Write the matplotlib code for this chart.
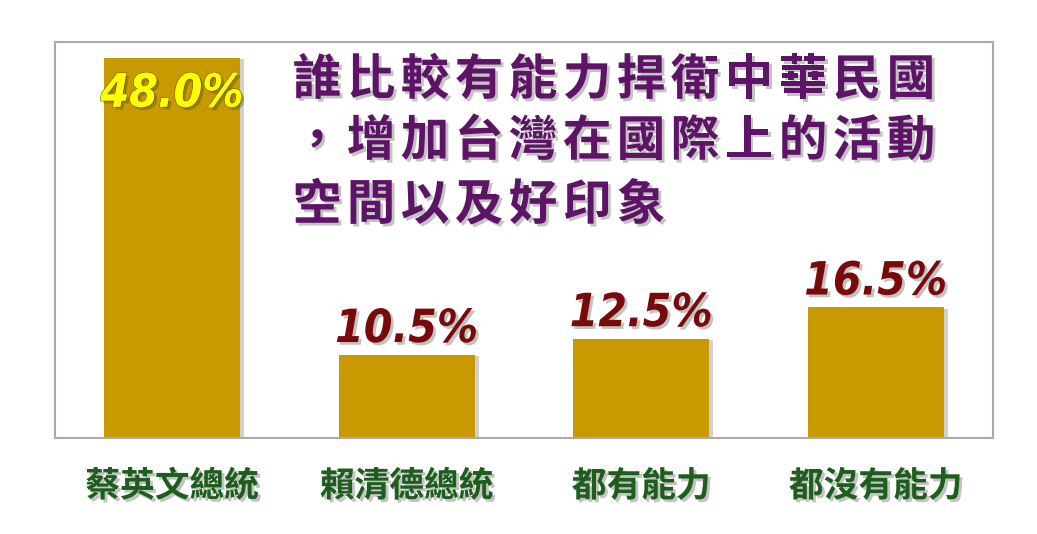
import matplotlib
matplotlib.use("Agg")
import matplotlib.pyplot as plt
import matplotlib.patheffects as pe
from matplotlib import font_manager

names = {f.name for f in font_manager.fontManager.ttflist}

categories = ["蔡英文總統", "賴清德總統", "都有能力", "都沒有能力"]
values = [48.0, 10.5, 12.5, 16.5]
labels = ["48.0%", "10.5%", "12.5%", "16.5%"]
title_lines = ["誰比較有能力捍衛中華民國", "，增加台灣在國際上的活動", "空間以及好印象"]

narrow = "Liberation Sans Narrow" if "Liberation Sans Narrow" in names else "DejaVu Sans"
cjk = ["Noto Sans CJK TC", "DejaVu Sans"]

fig = plt.figure(figsize=(10.37, 5.34), dpi=100)
ax = fig.add_axes([0.053, 0.1798, 0.9046, 0.7416])

shadow = [pe.SimplePatchShadow(offset=(3, -1), shadow_rgbFace="#666666", alpha=0.3), pe.Normal()]
txt_shadow = [pe.SimplePatchShadow(offset=(2, -2), shadow_rgbFace="#888888", alpha=0.5), pe.Normal()]

x = range(len(values))
bars = ax.bar(x, values, width=0.58, color="#C99A00", zorder=2)
for b in bars:
    b.set_path_effects(shadow)

ax.set_xlim(-0.5, 3.5)
ax.set_ylim(0, 50)
ax.set_xticks(list(x))
ax.set_xticklabels(categories, family=cjk, fontsize=25, fontweight="bold", color="#1D5E1D")
for t in ax.get_xticklabels():
    t.set_path_effects(txt_shadow)
ax.tick_params(axis="x", length=0, pad=22)
ax.set_yticks([])
for s in ax.spines.values():
    s.set_color("#AAAAAA")
    s.set_linewidth(1.5)

for i, (v, lab) in enumerate(zip(values, labels)):
    if i == 0:
        ax.annotate(lab, (i, v), xytext=(0, -10), textcoords="offset points",
                    ha="center", va="top", fontsize=33, fontweight="bold", style="italic",
                    family=narrow, fontstretch="condensed", color="#FFFF00",
                    path_effects=[pe.withStroke(linewidth=1.2, foreground="#8A7000"),
                                  pe.SimplePatchShadow(offset=(2, -2), alpha=0.4)] + [pe.Normal()])
    else:
        ax.annotate(lab, (i, v), xytext=(0, 2), textcoords="offset points",
                    ha="center", va="bottom", fontsize=33, fontweight="bold", style="italic",
                    family=narrow, fontstretch="condensed", color="#780A0A",
                    path_effects=txt_shadow)

# title, drawn char by char to get the wide letter spacing
step = 54 / 1037
x0 = 317 / 1037
ys = [1 - 80 / 534, 1 - 141 / 534, 1 - 205 / 534]
for line, y in zip(title_lines, ys):
    for k, ch in enumerate(line):
        fig.text(x0 + k * step, y, ch, ha="center", va="center",
                 fontsize=35, fontweight="bold", family=cjk, color="#5E1466",
                 path_effects=txt_shadow)

fig.savefig("out.png", dpi=100, facecolor="white")
